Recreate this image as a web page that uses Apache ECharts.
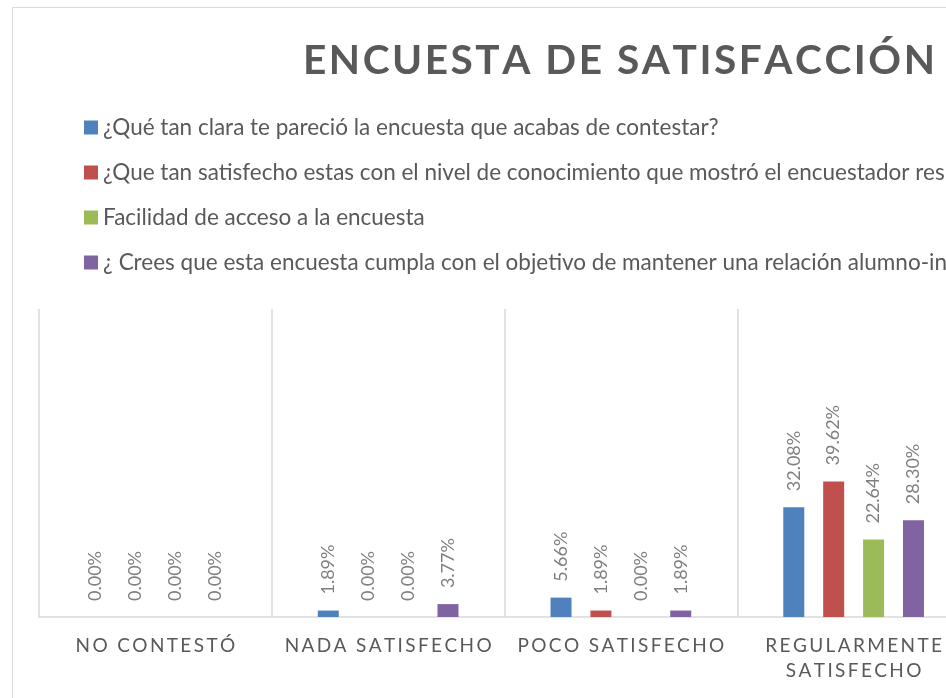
<!DOCTYPE html>
<html>
<head>
<meta charset="utf-8">
<script src="https://cdn.jsdelivr.net/npm/echarts@6/dist/echarts.min.js"></script>
<style>
  html, body { margin: 0; padding: 0; background: #fff; overflow: hidden; }
  /* el gráfico original sigue a la derecha, se recorta en el borde de la ventana */
  #main { width: 980px; height: 698px; }
</style>
</head>
<body>
<div id="main"></div>
<script>
// datos de la encuesta (porcentajes)
var categorias = ['NO CONTESTÓ', 'NADA SATISFECHO', 'POCO SATISFECHO', 'REGULARMENTE\nSATISFECHO'];
var preguntas = [
  '¿Qué tan clara te pareció la encuesta que acabas de contestar?',
  '¿Que tan satisfecho estas con el nivel de conocimiento que mostró el encuestador respecto al tema?',
  'Facilidad de acceso a la encuesta',
  '¿ Crees que esta encuesta cumpla con el objetivo de mantener una relación alumno-institución?'
];
var claridad = [0.00, 1.89, 5.66, 32.08];
var conocimiento = [0.00, 0.00, 1.89, 39.62];
var acceso = [0.00, 0.00, 0.00, 22.64];
var relacion = [0.00, 3.77, 1.89, 28.30];
var colores = ['#4F81BD', '#C0504D', '#9BBB59', '#8064A2'];

// espaciado entre letras (simulado con espacios finos)
function espaciar(txt, sep) {
  return txt.split('\n').map(function (linea) {
    return linea.split('').join(sep);
  }).join('\n');
}

var myChart = echarts.init(document.getElementById('main'));

var valores = [claridad, conocimiento, acceso, relacion];
var series = preguntas.map(function (nombre, i) {
  return {
    name: nombre,
    type: 'bar',
    barWidth: 21,
    barGap: '90%',
    itemStyle: { color: colores[i] },
    label: {
      show: true,
      position: 'top',
      rotate: 90,
      align: 'left',
      verticalAlign: 'middle',
      distance: 16,
      color: '#7F7F7F',
      fontFamily: 'Lato',
      fontSize: 18,
      formatter: function (p) { return p.value.toFixed(2) + '%'; }
    },
    data: valores[i]
  };
});

var option = {
  animation: false,
  title: {
    text: espaciar('ENCUESTA DE SATISFACCIÓN', '\u200A'),
    left: 298,
    top: 35,
    textStyle: { color: '#595959', fontFamily: 'Lato', fontWeight: 'bold', fontSize: 40.6 }
  },
  legend: {
    orient: 'vertical',
    left: 79,
    top: 111,
    itemWidth: 14,
    itemHeight: 14,
    itemGap: 22,
    icon: 'rect',
    textStyle: { color: '#595959', fontFamily: 'Lato', fontSize: 22.5, lineHeight: 22 },
    data: preguntas
  },
  graphic: [{
    type: 'rect',
    left: 10,
    top: 5,
    shape: { width: 1200, height: 1000 },
    style: { fill: 'none', stroke: '#D9D9D9', lineWidth: 1 },
    silent: true
  }],
  grid: { left: 39, right: 10, top: 309, bottom: 81 },
  xAxis: {
    type: 'category',
    data: categorias,
    axisTick: { show: false },
    axisLine: { lineStyle: { color: '#D9D9D9', width: 1.5 } },
    splitLine: { show: true, interval: 0, lineStyle: { color: '#D9D9D9', width: 1.5 } },
    axisLabel: {
      interval: 0,
      color: '#595959',
      fontFamily: 'Lato',
      fontSize: 19,
      margin: 16,
      lineHeight: 25,
      formatter: function (v) { return espaciar(v, '\u2009'); }
    }
  },
  yAxis: {
    type: 'value',
    min: 0,
    max: 90,
    show: false,
    splitLine: { show: false }
  },
  series: series
};

option && myChart.setOption(option);
</script>
</body>
</html>
